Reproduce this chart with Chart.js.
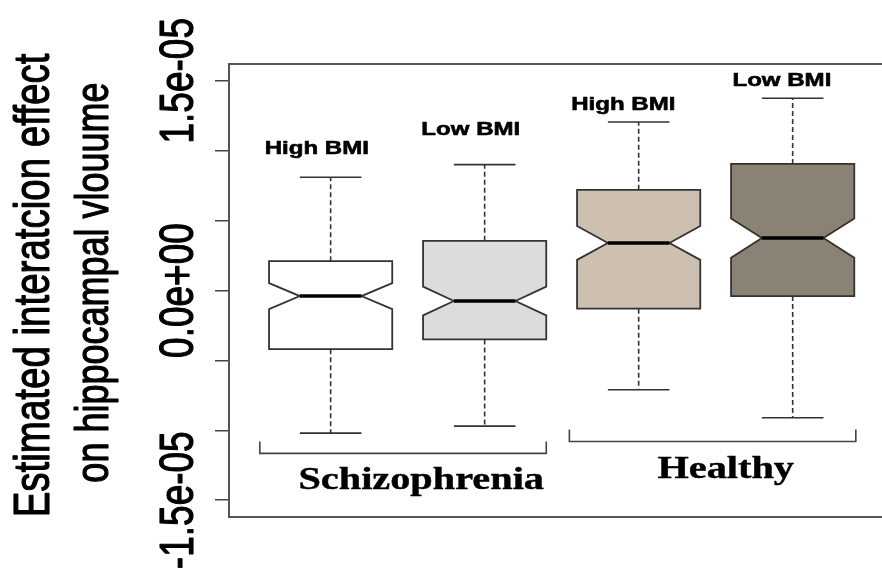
<!DOCTYPE html>
<html>
<head>
<meta charset="utf-8">
<script src="https://cdn.jsdelivr.net/npm/chart.js@4/dist/chart.umd.min.js"></script>
<style>
  html, body { margin: 0; padding: 0; background: #ffffff; overflow: hidden; }
  #wrap { width: 882px; height: 571px; position: relative; }
</style>
</head>
<body>
<div id="wrap"><canvas id="c" width="882" height="571"></canvas></div>
<script>
// Box positions and their labels (two BMI groups within each diagnosis)
const boxPositions = [1, 2, 3, 4];
const boxLabels = ['High BMI', 'Low BMI', 'High BMI', 'Low BMI'];

// Five-number summaries of the estimated interaction effect
const whiskerLow  = [-1.02e-5, -0.97e-5, -0.71e-5, -0.91e-5];
const quart1      = [-0.42e-5, -0.35e-5, -0.13e-5, -0.04e-5];
const medians     = [-0.04e-5, -0.075e-5, 0.34e-5, 0.375e-5];
const quart3      = [0.21e-5, 0.355e-5, 0.72e-5, 0.905e-5];
const whiskerHigh = [0.81e-5, 0.90e-5, 1.205e-5, 1.375e-5];
// Half-height of each notch around the median
const notchHalf   = [0.093e-5, 0.103e-5, 0.121e-5, 0.14e-5];

const boxColors = ['#ffffff', '#dcdcdc', '#cdc0b0', '#8b8276'];

// Text annotations above each box (data coordinates)
const labelX = [0.91, 1.91, 2.90, 3.93];
const labelY = [0.976e-5, 1.112e-5, 1.29e-5, 1.465e-5];

// Group brackets under the boxes
const groupNames = ['Schizophrenia', 'Healthy'];
const groupFrom  = [0.54, 2.55];
const groupTo    = [2.40, 4.41];
const groupBaseY = [-1.165e-5, -1.08e-5];
const groupTopY  = [-1.08e-5, -0.995e-5];
const groupTextX = [1.588, 3.565];
const groupTextY = [-1.42e-5, -1.341e-5];

// Y axis ticks and the labelled subset
const yTickValues  = [-1.5e-5, -1.0e-5, -0.5e-5, 0, 0.5e-5, 1.0e-5, 1.5e-5];
const yLabelValues = [1.5e-5, 0, -1.5e-5];
const yLabelTexts  = ['1.5e-05', '0.0e+00', '-1.5e-05'];
const yTitleLines  = ['Estimated interatcion effect', 'on hippocampal vlouume'];

const STRETCH = 1.3;

function stretchedText(ctx, text, x, y, font, rotate, weight) {
  ctx.save();
  ctx.translate(x, y);
  ctx.scale(STRETCH, 1);
  if (rotate) ctx.rotate(-Math.PI / 2);
  ctx.font = font;
  ctx.fillStyle = '#000000';
  ctx.textAlign = 'center';
  ctx.textBaseline = 'alphabetic';
  ctx.fillText(text, 0, 0);
  if (weight) {
    ctx.strokeStyle = '#000000';
    ctx.lineWidth = weight;
    ctx.lineJoin = 'round';
    ctx.strokeText(text, 0, 0);
  }
  ctx.restore();
}

const notchedBoxes = {
  id: 'notchedBoxes',
  afterDraw(chart) {
    const { ctx, chartArea } = chart;
    const xs = chart.scales.x, ys = chart.scales.y;
    const halfW = 0.4, stapleHalf = 0.2, notchInner = 0.2;

    // top frame line
    ctx.save();
    ctx.strokeStyle = '#555555';
    ctx.lineWidth = 2;
    ctx.beginPath();
    ctx.moveTo(chartArea.left, chartArea.top);
    ctx.lineTo(chartArea.right, chartArea.top);
    ctx.stroke();
    ctx.restore();

    boxPositions.forEach((p, i) => {
      const xc = xs.getPixelForValue(p);
      const xl = xs.getPixelForValue(p - halfW);
      const xr = xs.getPixelForValue(p + halfW);
      const xni = xs.getPixelForValue(p - notchInner);
      const xnr = xs.getPixelForValue(p + notchInner);
      const xsl = xs.getPixelForValue(p - stapleHalf);
      const xsr = xs.getPixelForValue(p + stapleHalf);
      const yLo = ys.getPixelForValue(whiskerLow[i]);
      const yHi = ys.getPixelForValue(whiskerHigh[i]);
      const yQ1 = ys.getPixelForValue(quart1[i]);
      const yQ3 = ys.getPixelForValue(quart3[i]);
      const yM = ys.getPixelForValue(medians[i]);
      const yNHi = ys.getPixelForValue(medians[i] + notchHalf[i]);
      const yNLo = ys.getPixelForValue(medians[i] - notchHalf[i]);

      ctx.save();
      // dashed whiskers
      ctx.strokeStyle = '#333333';
      ctx.lineWidth = 1.6;
      ctx.setLineDash([5, 3]);
      ctx.beginPath();
      ctx.moveTo(xc, yQ3); ctx.lineTo(xc, yHi);
      ctx.moveTo(xc, yQ1); ctx.lineTo(xc, yLo);
      ctx.stroke();
      ctx.setLineDash([]);
      // staples
      ctx.beginPath();
      ctx.moveTo(xsl, yHi); ctx.lineTo(xsr, yHi);
      ctx.moveTo(xsl, yLo); ctx.lineTo(xsr, yLo);
      ctx.stroke();
      // notched box
      ctx.beginPath();
      ctx.moveTo(xl, yQ3);
      ctx.lineTo(xr, yQ3);
      ctx.lineTo(xr, yNHi);
      ctx.lineTo(xnr, yM);
      ctx.lineTo(xr, yNLo);
      ctx.lineTo(xr, yQ1);
      ctx.lineTo(xl, yQ1);
      ctx.lineTo(xl, yNLo);
      ctx.lineTo(xni, yM);
      ctx.lineTo(xl, yNHi);
      ctx.closePath();
      ctx.fillStyle = boxColors[i];
      ctx.fill();
      ctx.strokeStyle = '#333333';
      ctx.lineWidth = 1.8;
      ctx.stroke();
      // median
      ctx.beginPath();
      ctx.moveTo(xni, yM); ctx.lineTo(xnr, yM);
      ctx.strokeStyle = '#000000';
      ctx.lineWidth = 3.5;
      ctx.stroke();
      ctx.restore();

      stretchedText(ctx, boxLabels[i], xs.getPixelForValue(labelX[i]),
        ys.getPixelForValue(labelY[i]), 'bold 18.5px "Liberation Sans", Arial, sans-serif', false, 0.6);
    });

    // group brackets and names
    groupNames.forEach((name, g) => {
      const x0 = xs.getPixelForValue(groupFrom[g]);
      const x1 = xs.getPixelForValue(groupTo[g]);
      const yb = ys.getPixelForValue(groupBaseY[g]);
      const yt = ys.getPixelForValue(groupTopY[g]);
      ctx.save();
      ctx.strokeStyle = '#444444';
      ctx.lineWidth = 1.6;
      ctx.beginPath();
      ctx.moveTo(x0, yt); ctx.lineTo(x0, yb); ctx.lineTo(x1, yb); ctx.lineTo(x1, yt);
      ctx.stroke();
      ctx.restore();
      stretchedText(ctx, name, xs.getPixelForValue(groupTextX[g]),
        ys.getPixelForValue(groupTextY[g]), 'bold 31px "Liberation Serif", "Times New Roman", serif', false, 0.4);
    });

    // rotated y tick labels
    yLabelValues.forEach((v, k) => {
      stretchedText(ctx, yLabelTexts[k], ys.left - 22, ys.getPixelForValue(v),
        '37px "Liberation Sans", Arial, sans-serif', true, 0.9);
    });

    // y axis title, two lines
    const midY = (chartArea.top + chartArea.bottom) / 2 - 5;
    stretchedText(ctx, yTitleLines[0], 49, midY, '38.5px "Liberation Sans", Arial, sans-serif', true, 0.9);
    stretchedText(ctx, yTitleLines[1], 108, midY - 3, '36px "Liberation Sans", Arial, sans-serif', true, 0.9);
  }
};

new Chart(document.getElementById('c'), {
  type: 'scatter',
  data: {
    datasets: [{
      data: boxPositions.map((p, i) => ({ x: p, y: medians[i] })),
      pointRadius: 0,
      pointHoverRadius: 0,
      showLine: false
    }]
  },
  options: {
    responsive: false,
    animation: false,
    events: [],
    layout: { padding: { left: 215, top: 64, right: 0, bottom: 54 } },
    plugins: { legend: { display: false }, tooltip: { enabled: false } },
    scales: {
      x: {
        type: 'linear',
        min: 0.34,
        max: 4.58,
        grid: { display: false, drawTicks: false },
        ticks: { display: false },
        border: { display: true, color: '#555555', width: 2 },
        afterFit: (s) => { s.height = 0; }
      },
      y: {
        type: 'linear',
        min: -1.62e-5,
        max: 1.62e-5,
        afterBuildTicks: (s) => { s.ticks = yTickValues.map(v => ({ value: v })); },
        ticks: { display: false },
        grid: { display: true, drawOnChartArea: false, drawTicks: true, tickLength: 14, color: '#444444', lineWidth: 1.5 },
        border: { display: true, color: '#555555', width: 2 },
        afterFit: (s) => { s.width = 14; }
      }
    }
  },
  plugins: [notchedBoxes]
});
</script>
</body>
</html>
